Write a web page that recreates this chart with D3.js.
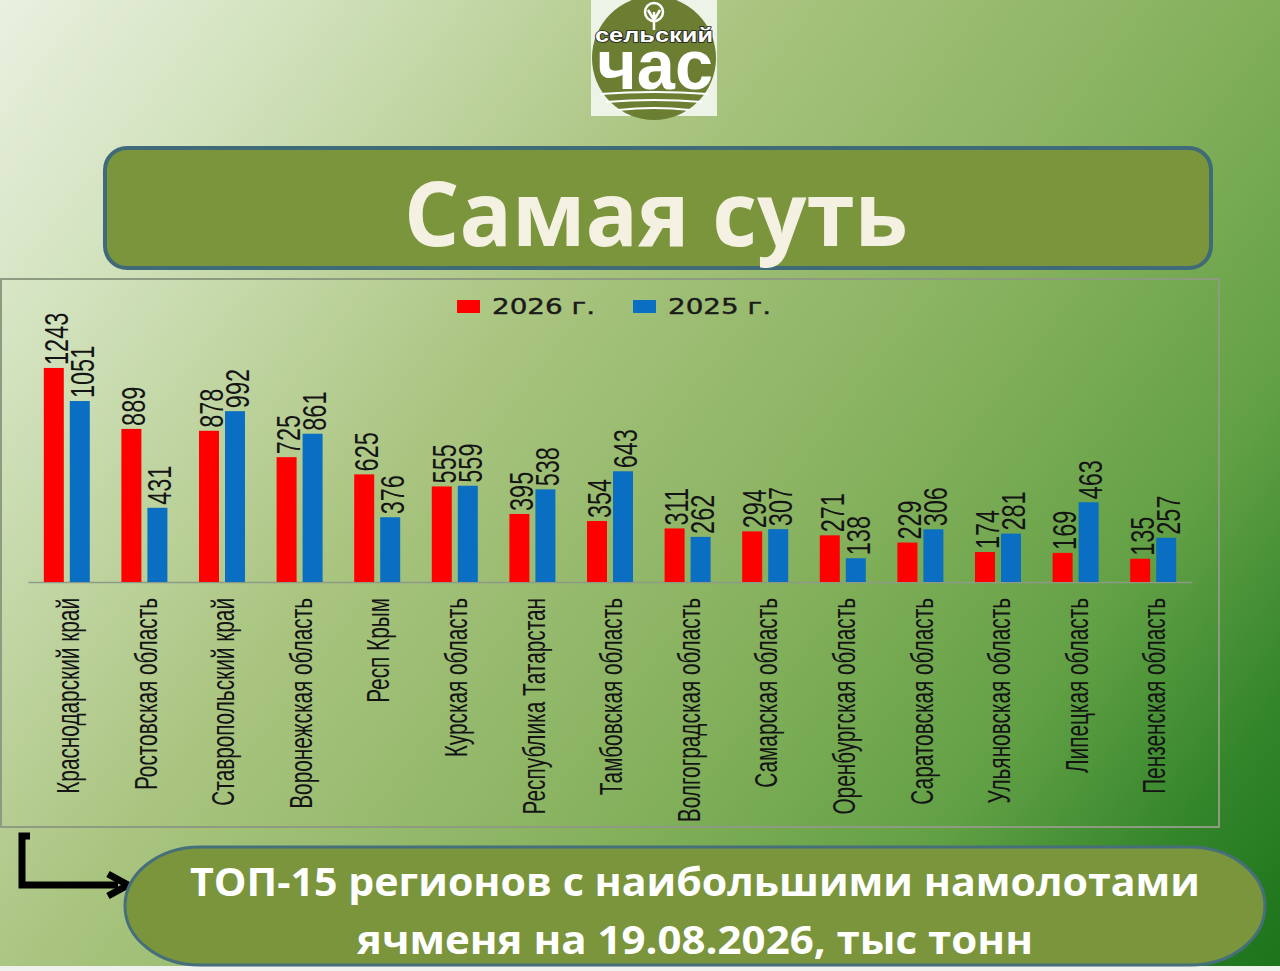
<!DOCTYPE html>
<html><head><meta charset="utf-8">
<script src="https://cdn.jsdelivr.net/npm/d3@7"></script>
<style>html,body{margin:0;padding:0;background:#fff;}svg{display:block}</style>
</head><body>
<svg id="c" width="1280" height="971"></svg>
<script>
const categories = ["Краснодарский край","Ростовская область","Ставропольский край","Воронежская область","Респ Крым","Курская область","Республика Татарстан","Тамбовская область","Волгоградская область","Самарская область","Оренбургская область","Саратовская область","Ульяновская область","Липецкая область","Пензенская область"];
const seriesNames = ["2026 г.","2025 г."];
const values2026 = [1243,889,878,725,625,555,395,354,311,294,271,229,174,169,135];
const values2025 = [1051,431,992,861,376,559,538,643,262,307,138,306,281,463,257];
const titleText = "Самая суть";
const captionLines = ["ТОП-15 регионов с наибольшими намолотами","ячменя на 19.08.2026, тыс тонн"];
const seriesColors = ["#ff0000","#0a6fc2"];

const svg = d3.select("#c");
const defs = svg.append("defs");
const bg = defs.append("linearGradient").attr("id","bg").attr("gradientUnits","userSpaceOnUse")
  .attr("x1",0).attr("y1",0).attr("x2",1280).attr("y2",971);
[[0,"#e9f0e0"],[0.15,"#d2e2bd"],[0.38,"#a9c47f"],[0.62,"#84b05c"],[0.78,"#62a045"],[0.9,"#33852a"],[1,"#1c731a"]]
  .forEach(([o,c])=>bg.append("stop").attr("offset",o).attr("stop-color",c));
svg.append("rect").attr("width",1280).attr("height",971).attr("fill","url(#bg)");
svg.append("rect").attr("y",966).attr("width",1280).attr("height",5).attr("fill","#eef1ee");

// Logo
const logo = svg.append("g");
logo.append("rect").attr("x",591).attr("y",0).attr("width",126).attr("height",116).attr("fill","#eef3e8");
logo.append("circle").attr("cx",654).attr("cy",58).attr("r",62).attr("fill","#6b7e32");
logo.append("circle").attr("cx",654).attr("cy",12).attr("r",9).attr("fill","none").attr("stroke","#fff").attr("stroke-width",2.5);
logo.append("path").attr("d","M654,30 L654,12 M654,20 L648,10 M654,20 L660,10").attr("stroke","#fff").attr("stroke-width",2.5).attr("fill","none");
logo.append("text").attr("x",655).attr("y",89).attr("text-anchor","middle")
  .attr("font-family","Liberation Sans, Arial, sans-serif").attr("font-weight",700).attr("font-size",70)
  .attr("textLength",116).attr("lengthAdjust","spacingAndGlyphs").attr("fill","#fff").text("час");
logo.append("text").attr("x",654).attr("y",42).attr("text-anchor","middle")
  .attr("font-family","Liberation Sans, Arial, sans-serif").attr("font-weight",700).attr("font-size",21)
  .attr("textLength",118).attr("lengthAdjust","spacingAndGlyphs").attr("fill","#fff")
  .attr("stroke","#1e1e1e").attr("stroke-width",1.6).attr("paint-order","stroke").text("сельский");
[[94,600,708],[102,606,702],[110,618,690]].forEach(([y,a,b])=>{
  logo.append("path").attr("d",`M${a},${y} Q${(a+b)/2},${y-4} ${b},${y}`).attr("stroke","#fff").attr("stroke-width",2).attr("fill","none");
});

// Title box
svg.append("rect").attr("x",105).attr("y",148).attr("width",1106).attr("height",120).attr("rx",22)
  .attr("fill","#7a953c").attr("stroke","#3f6a78").attr("stroke-width",4);
svg.append("text").attr("x",656).attr("y",246).attr("text-anchor","middle")
  .attr("font-family","Open Sans, sans-serif").attr("font-weight",700).attr("font-size",90)
  .attr("textLength",504).attr("lengthAdjust","spacingAndGlyphs")
  .attr("fill","#f4f1e2").text(titleText);

// Chart frame
svg.append("rect").attr("x",1).attr("y",279).attr("width",1218).attr("height",548)
  .attr("fill","none").attr("stroke","#8d9c80").attr("stroke-width",2);

const x0 = d3.scaleBand().domain(categories).range([28,1192]).paddingInner(0).paddingOuter(0);
const x1 = d3.scaleBand().domain(seriesNames).range([0,46]).paddingInner(0.2308);
const y = d3.scaleLinear().domain([0,1400]).range([582,582-1400*0.1722]);

const data = categories.map((c,i)=>({cat:c, vals:[values2026[i],values2025[i]]}));

const axis = svg.append("g").attr("transform","translate(0,582)")
  .call(d3.axisBottom(x0).tickSize(0).tickFormat(""));
axis.select(".domain").attr("stroke","#8e9a88").attr("stroke-width",1.5);

const groups = svg.append("g").selectAll("g").data(data).join("g")
  .attr("transform",d=>`translate(${x0(d.cat)+x0.bandwidth()/2-23},0)`);
groups.selectAll("rect").data(d=>d.vals.map((v,j)=>({s:seriesNames[j],v,j}))).join("rect")
  .attr("x",d=>x1(d.s)).attr("width",x1.bandwidth())
  .attr("y",d=>y(d.v)).attr("height",d=>y(0)-y(d.v))
  .attr("fill",d=>seriesColors[d.j]);
groups.selectAll("text").data(d=>d.vals.map((v,j)=>({s:seriesNames[j],v,j}))).join("text")
  .attr("transform",d=>`translate(${x1(d.s)+x1.bandwidth()/2+1.5},${y(d.v)-3}) scale(1.45,1) rotate(-90)`)
  .attr("dy","0.36em").attr("text-anchor","start")
  .attr("font-family","Liberation Sans, Arial, sans-serif").attr("font-size",23.5).attr("fill","#141414")
  .text(d=>d.v);

// category labels
svg.append("g").selectAll("text").data(categories).join("text")
  .attr("transform",d=>`translate(${x0(d)+x0.bandwidth()/2+1},598) scale(1.5,1) rotate(-90)`)
  .attr("dy","0.36em").attr("text-anchor","end")
  .attr("font-family","Liberation Sans, Arial, sans-serif").attr("font-size",20.8).attr("fill","#141414")
  .text(d=>d);

// legend
const leg = svg.append("g");
seriesNames.forEach((s,i)=>{
  const lx = [457,633][i];
  leg.append("rect").attr("x",lx).attr("y",300).attr("width",23).attr("height",13).attr("fill",seriesColors[i]);
  leg.append("text").attr("x",lx+35).attr("y",313.5).attr("font-family","DejaVu Sans, sans-serif").attr("font-size",21)
    .attr("textLength",103).attr("lengthAdjust","spacingAndGlyphs").attr("fill","#1a1a1a")
    .attr("stroke","#1a1a1a").attr("stroke-width",0.4).text(s);
});

// arrow
svg.append("path").attr("d","M30,836 L22,836 L22,885 L118,885").attr("fill","none").attr("stroke","#000").attr("stroke-width",7);
svg.append("path").attr("d","M108,874 L128,885 L108,896").attr("fill","none").attr("stroke","#000").attr("stroke-width",7).attr("stroke-linejoin","miter");

// caption panel
svg.append("rect").attr("x",125).attr("y",847).attr("width",1140).attr("height",118).attr("rx",75).attr("ry",59)
  .attr("fill","#7a953c").attr("stroke","#456f7a").attr("stroke-width",3);
svg.append("text").attr("x",695).attr("y",896).attr("text-anchor","middle")
  .attr("font-family","Open Sans, sans-serif").attr("font-weight",700).attr("font-size",40)
  .attr("textLength",1010).attr("lengthAdjust","spacingAndGlyphs").attr("fill","#fff").text(captionLines[0]);
svg.append("text").attr("x",695).attr("y",954).attr("text-anchor","middle")
  .attr("font-family","Open Sans, sans-serif").attr("font-weight",700).attr("font-size",40)
  .attr("textLength",676).attr("lengthAdjust","spacingAndGlyphs").attr("fill","#fff").text(captionLines[1]);
</script>
</body></html>
